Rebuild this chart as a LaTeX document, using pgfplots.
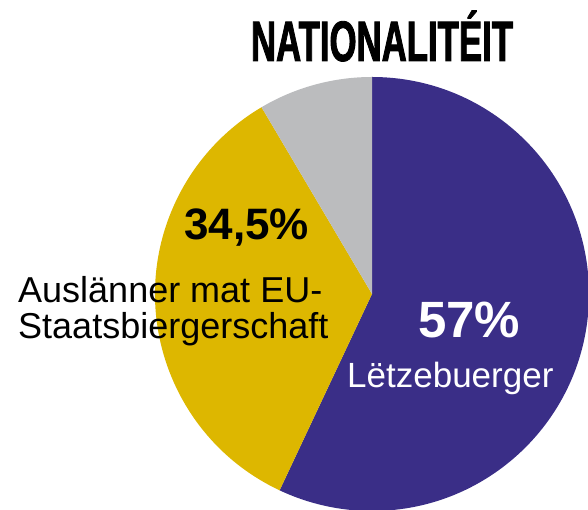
\documentclass[border=0pt]{standalone}
\usepackage{pgfplots}
\pgfplotsset{compat=1.18}
\usepackage{fontspec}
\setmainfont{Liberation Sans}
\newfontfamily\titlefont[FakeStretch=0.61,FakeBold=1.5]{Liberation Sans Bold}
\definecolor{luxblue}{HTML}{3A2E87}
\definecolor{euyellow}{HTML}{DDB700}
\definecolor{othgray}{HTML}{BBBCBE}
\begin{document}
\begin{tikzpicture}[x=1pt,y=1pt]
\useasboundingbox (0,0) rectangle (588,510);
% shares (%): Letzebuerger 57, EU 34.5, other 8.5 -> angles = share*3.6, starting at 90 deg clockwise
\begin{axis}[at={(372pt,216pt)}, anchor=center, width=434pt, height=434pt,
  scale only axis, xmin=-1, xmax=1, ymin=-1, ymax=1, hide axis, clip=false]
  % 57%: 90 -> 90-205.2 = -115.2
  \fill[luxblue] (axis cs:0,0) -- (axis cs:0,1) arc[start angle=90, end angle=-115.2, radius=217pt] -- cycle;
  % 34.5%: -115.2 -> -115.2-124.2 = -239.4
  \fill[euyellow] (axis cs:0,0) -- ({axis cs:{cos(-115.2)},{sin(-115.2)}}) arc[start angle=-115.2, end angle=-239.4, radius=217pt] -- cycle;
  % 8.5%: -239.4 -> -270
  \fill[othgray] (axis cs:0,0) -- ({axis cs:{cos(-239.4)},{sin(-239.4)}}) arc[start angle=-239.4, end angle=-270, radius=217pt] -- cycle;
\end{axis}
\node[anchor=base, inner sep=0pt] at (382,449) {\titlefont\fontsize{57}{60}\selectfont NATIONALITÉIT};
\node[anchor=base west, inner sep=0pt] at (184,270) {\bfseries\fontsize{44}{48}\selectfont 34,5\%};
\node[anchor=base west, inner sep=0pt] at (18,207) {\fontsize{36}{40}\selectfont Auslänner mat EU-};
\node[anchor=base west, inner sep=0pt] at (18,171) {\fontsize{36}{40}\selectfont Staatsbiergerschaft};
\node[anchor=base west, inner sep=0pt, text=white] at (418,172) {\bfseries\fontsize{51}{55}\selectfont 57\%};
\node[anchor=base west, inner sep=0pt, text=white] at (347,122) {\fontsize{35}{40}\selectfont Lëtzebuerger};
\end{tikzpicture}
\end{document}
